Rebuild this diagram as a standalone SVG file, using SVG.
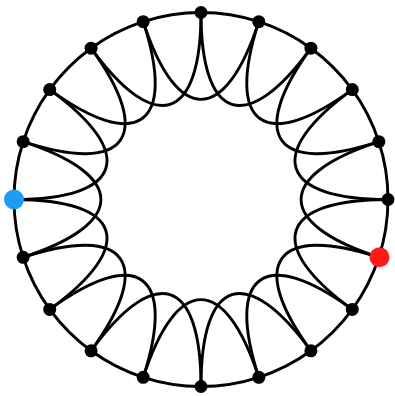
<svg xmlns="http://www.w3.org/2000/svg" width="395" height="396" viewBox="0 0 395 396">
<style>
.e{fill:none;stroke:#000;stroke-width:2.9;stroke-linecap:round}
.n{fill:#000}
.b{fill:#1E9CF2}
.r{fill:#FF1A1A}
</style>
<rect width="395" height="396" fill="#fff"/>
<g transform="translate(0,-1)">
<g id="edges">
<path class="e" d="M201,13.5 A187,187 0 0 1 258.79,22.65"/>
<path class="e" d="M258.79,22.65 A187,187 0 0 1 310.92,49.21"/>
<path class="e" d="M310.92,49.21 A187,187 0 0 1 352.29,90.58"/>
<path class="e" d="M352.29,90.58 A187,187 0 0 1 378.85,142.71"/>
<path class="e" d="M378.85,142.71 A187,187 0 0 1 388,200.5"/>
<path class="e" d="M388,200.5 A187,187 0 0 1 378.85,258.29"/>
<path class="e" d="M378.85,258.29 A187,187 0 0 1 352.29,310.42"/>
<path class="e" d="M352.29,310.42 A187,187 0 0 1 310.92,351.79"/>
<path class="e" d="M310.92,351.79 A187,187 0 0 1 258.79,378.35"/>
<path class="e" d="M258.79,378.35 A187,187 0 0 1 201,387.5"/>
<path class="e" d="M201,387.5 A187,187 0 0 1 143.21,378.35"/>
<path class="e" d="M143.21,378.35 A187,187 0 0 1 91.08,351.79"/>
<path class="e" d="M91.08,351.79 A187,187 0 0 1 49.71,310.42"/>
<path class="e" d="M49.71,310.42 A187,187 0 0 1 23.15,258.29"/>
<path class="e" d="M23.15,258.29 A187,187 0 0 1 14,200.5"/>
<path class="e" d="M14,200.5 A187,187 0 0 1 23.15,142.71"/>
<path class="e" d="M23.15,142.71 A187,187 0 0 1 49.71,90.58"/>
<path class="e" d="M49.71,90.58 A187,187 0 0 1 91.08,49.21"/>
<path class="e" d="M91.08,49.21 A187,187 0 0 1 143.21,22.65"/>
<path class="e" d="M143.21,22.65 A187,187 0 0 1 201,13.5"/>
<path class="e" d="M201,13.5 C201,122.5 246.85,137.4 310.92,49.21"/>
<path class="e" d="M258.79,22.65 C225.1,126.32 264.1,154.65 352.29,90.58"/>
<path class="e" d="M310.92,49.21 C246.85,137.4 275.18,176.4 378.85,142.71"/>
<path class="e" d="M352.29,90.58 C264.1,154.65 279,200.5 388,200.5"/>
<path class="e" d="M378.85,142.71 C275.18,176.4 275.18,224.6 378.85,258.29"/>
<path class="e" d="M388,200.5 C279,200.5 264.1,246.35 352.29,310.42"/>
<path class="e" d="M378.85,258.29 C275.18,224.6 246.85,263.6 310.92,351.79"/>
<path class="e" d="M352.29,310.42 C264.1,246.35 225.1,274.68 258.79,378.35"/>
<path class="e" d="M310.92,351.79 C246.85,263.6 201,278.5 201,387.5"/>
<path class="e" d="M258.79,378.35 C225.1,274.68 176.9,274.68 143.21,378.35"/>
<path class="e" d="M201,387.5 C201,278.5 155.15,263.6 91.08,351.79"/>
<path class="e" d="M143.21,378.35 C176.9,274.68 137.9,246.35 49.71,310.42"/>
<path class="e" d="M91.08,351.79 C155.15,263.6 126.82,224.6 23.15,258.29"/>
<path class="e" d="M49.71,310.42 C137.9,246.35 123,200.5 14,200.5"/>
<path class="e" d="M23.15,258.29 C126.82,224.6 126.82,176.4 23.15,142.71"/>
<path class="e" d="M14,200.5 C123,200.5 137.9,154.65 49.71,90.58"/>
<path class="e" d="M23.15,142.71 C126.82,176.4 155.15,137.4 91.08,49.21"/>
<path class="e" d="M49.71,90.58 C137.9,154.65 176.9,126.32 143.21,22.65"/>
<path class="e" d="M91.08,49.21 C155.15,137.4 201,122.5 201,13.5"/>
<path class="e" d="M143.21,22.65 C176.9,126.32 225.1,126.32 258.79,22.65"/>
</g>
<g id="n0"><circle class="n" cx="201" cy="13.5" r="6.5"/></g>
<g id="n1"><circle class="n" cx="258.79" cy="22.65" r="6.5"/></g>
<g id="n2"><circle class="n" cx="310.92" cy="49.21" r="6.5"/></g>
<g id="n3"><circle class="n" cx="352.29" cy="90.58" r="6.5"/></g>
<g id="n4"><circle class="n" cx="378.85" cy="142.71" r="6.5"/></g>
<g id="n5"><circle class="n" cx="388" cy="200.5" r="6.5"/></g>
<g id="n6"><circle class="r" cx="379.5" cy="258.29" r="10"/></g>
<g id="n7"><circle class="n" cx="352.29" cy="310.42" r="6.5"/></g>
<g id="n8"><circle class="n" cx="310.92" cy="351.79" r="6.5"/></g>
<g id="n9"><circle class="n" cx="258.79" cy="378.35" r="6.5"/></g>
<g id="n10"><circle class="n" cx="201" cy="387.5" r="6.5"/></g>
<g id="n11"><circle class="n" cx="143.21" cy="378.35" r="6.5"/></g>
<g id="n12"><circle class="n" cx="91.08" cy="351.79" r="6.5"/></g>
<g id="n13"><circle class="n" cx="49.71" cy="310.42" r="6.5"/></g>
<g id="n14"><circle class="n" cx="23.15" cy="258.29" r="6.5"/></g>
<g id="n15"><circle class="b" cx="14" cy="200.5" r="10"/></g>
<g id="n16"><circle class="n" cx="23.15" cy="142.71" r="6.5"/></g>
<g id="n17"><circle class="n" cx="49.71" cy="90.58" r="6.5"/></g>
<g id="n18"><circle class="n" cx="91.08" cy="49.21" r="6.5"/></g>
<g id="n19"><circle class="n" cx="143.21" cy="22.65" r="6.5"/></g>
</g>
</svg>
